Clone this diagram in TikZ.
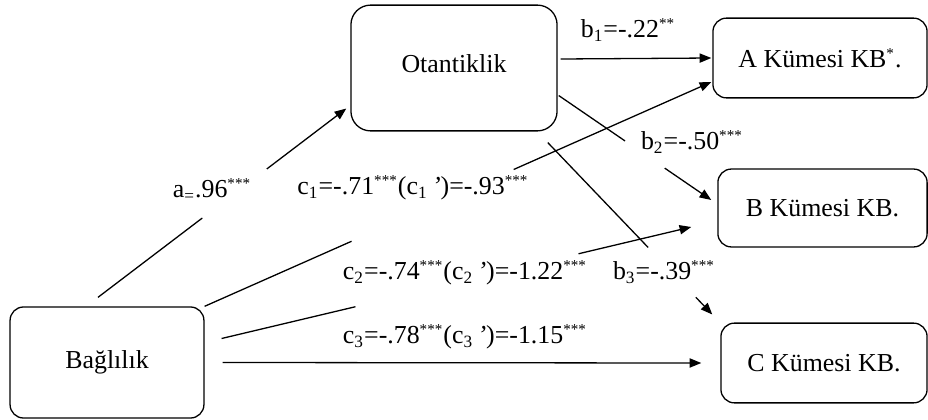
\documentclass[tikz,border=0pt]{standalone}
\usepackage{fontspec}
\setmainfont{Liberation Serif}
\usetikzlibrary{arrows.meta,calc}

\newcommand{\sig}[1]{\textsuperscript{\fontsize{7}{7}\selectfont #1}}

\tikzset{
  box/.style={draw, rounded corners=2.2mm, line width=0.6pt, align=center, font=\fontsize{12}{14}\selectfont},
  arr/.style={-{Triangle[length=1.9mm,width=1.5mm]}},
  lbl/.style={font=\fontsize{12}{14}\selectfont, inner sep=0pt}
}

\begin{document}
\begin{tikzpicture}[x=0.163mm, y=-0.163mm, line width=0.6pt]
  \useasboundingbox (0,0) rectangle (928,419);

  % variables
  \node[box, rounded corners=3.2mm, minimum width=33.6mm, minimum height=20.5mm, text depth=1.6mm] (oto) at (454,68) {Otantiklik};
  \node[box, minimum width=31.6mm, minimum height=18.1mm] (bag) at (107,362.5) {Bağlılık};
  \node[box, minimum width=34.9mm, minimum height=13mm] (kA) at (820,58) {A Kümesi KB\sig{*}.};
  \node[box, minimum width=34.1mm, minimum height=12.7mm] (kB) at (822.5,208) {B Kümesi KB.};
  \node[box, minimum width=33.6mm, minimum height=13mm] (kC) at (824,363) {C Kümesi KB.};

  % path labels
  \node[lbl] (la) at (212,190) {a\textsubscript{=}.96\sig{***}};
  \node[lbl] (lc1) at (413,188) {c\textsubscript{1}=-.71\sig{***}(c\textsubscript{1}\,\textit{’})=-.93\sig{***}};
  \node[lbl] (lc2) at (465,273) {c\textsubscript{2}=-.74\sig{***}(c\textsubscript{2}\,\textit{’})=-1.22\sig{***}};
  \node[lbl] (lc3) at (465,337) {c\textsubscript{3}=-.78\sig{***}(c\textsubscript{3}\,\textit{’})=-1.15\sig{***}};
  \node[lbl] (lb1) at (628,30) {b\textsubscript{1}=-.22\sig{**}};
  \node[lbl] (lb2) at (692,142) {b\textsubscript{2}=-.50\sig{***}};
  \node[lbl] (lb3) at (664,272) {b\textsubscript{3}=-.39\sig{***}};

  % end points of the paths
  \coordinate (aS) at ($(bag.north)+(-9,-9)$);
  \coordinate (aE) at ($(oto.south west)+(-4,-23)$);
  \coordinate (c1S) at (bag.north east);
  \coordinate (c1E) at ($(kA.west)+(-1,24)$);
  \coordinate (c2S) at ($(bag.east)+(17,-24)$);
  \coordinate (c2E) at ($(kB.west)+(-26,19)$);
  \coordinate (c3S) at ($(bag.east)+(18,0)$);
  \coordinate (c3E) at ($(kC.west)+(-19,0)$);
  \coordinate (b1S) at ($(oto.east)+(3,-9)$);
  \coordinate (b1E) at ($(kA.west)+(-1,0)$);
  \coordinate (b2S) at ($(oto.south east)+(1,-36)$);
  \coordinate (b2E) at ($(kB.west)+(-6,-8)$);
  \coordinate (b3S) at ($(oto.south east)+(-10,11)$);
  \coordinate (b3E) at ($(kC.north west)+(-8,-8)$);

  % paths broken around their labels
  \foreach \p/\from/\to in {a/0.42/0.68, c1/0.29/0.61, c2/0.285/0.76, b2/0.435/0.695, b3/0.61/0.90} {
    \path (\p S) -- (\p E) coordinate[pos=\from] (\p 1) coordinate[pos=\to] (\p 2);
    \draw (\p S) -- (\p 1);
    \draw[arr] (\p 2) -- (\p E);
  }
  \draw[arr] (c3S) -- (c3E);
  \draw[arr] (b1S) -- (b1E);
\end{tikzpicture}
\end{document}
